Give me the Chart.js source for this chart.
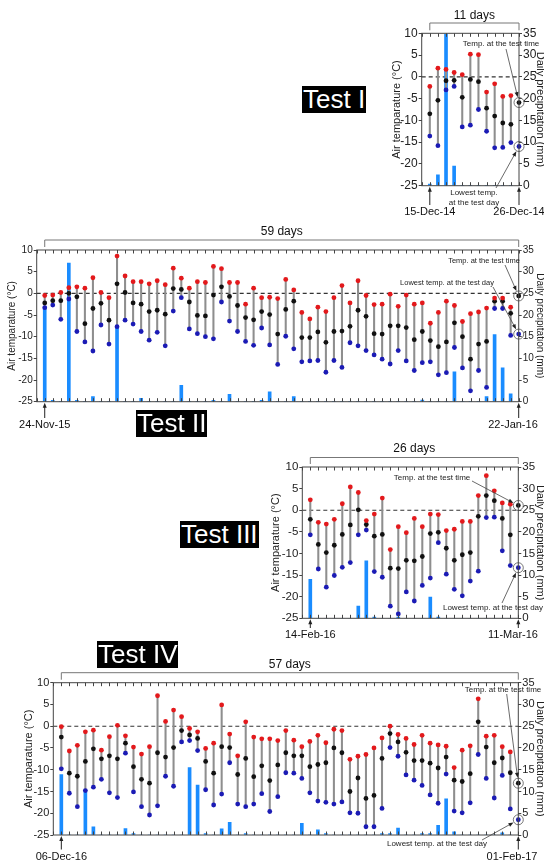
<!DOCTYPE html>
<html>
<head>
<meta charset="utf-8">
<script src="https://cdn.jsdelivr.net/npm/chart.js@4.4.1/dist/chart.umd.min.js"></script>
<style>
  body { margin: 0; background: #fff; }
  #page { position: relative; width: 544px; height: 862px; overflow: hidden; background: #fff; }
  canvas { position: absolute; }
  .tag {
    position: absolute; background: #000; color: #fff;
    font: 26px 'Liberation Sans', Arial, sans-serif; line-height: 27px;
    padding: 0 1px; white-space: nowrap;
  }
</style>
</head>
<body>
<div id="page">
  <canvas id="c0" width="170" height="222" style="left:380px;top:0px"></canvas>
  <canvas id="c1" width="550" height="210" style="left:0px;top:226px"></canvas>
  <canvas id="c2" width="288" height="210" style="left:262px;top:436px"></canvas>
  <canvas id="c3" width="550" height="216" style="left:0px;top:646px"></canvas>
  <div class="tag" style="left:302px;top:86px">Test I</div>
  <div class="tag" style="left:136px;top:410px">Test II</div>
  <div class="tag" style="left:180px;top:521px">Test III</div>
  <div class="tag" style="left:97px;top:641px">Test IV</div>
</div>
<script>
  const FONT = "'Liberation Sans', Arial, sans-serif"

  const tempTicks = [-25, -20, -15, -10, -5, 0, 5, 10]
  const rainTicks = [0, 5, 10, 15, 20, 25, 30, 35]
  const startDates = ['15-Dec-14', '24-Nov-15', '14-Feb-16', '06-Dec-16']
  const endDates = ['26-Dec-14', '22-Jan-16', '11-Mar-16', '01-Feb-17']
  const dayCounts = [11, 59, 26, 57]
  // temperature at the test time / lowest temperature on the test day
  const testNow = [-5.9, -0.6, 1.1, -13.1]
  const testLow = [-16.0, -9.4, -13.3, -21.5]

  // Test I
  const maxI = [-2.2, 2.0, 1.7, 1.0, 0.5, 5.2, 5.1, -3.5, -1.6, -4.5, -4.3]
  const meanI = [-8.5, -5.4, -0.9, -0.8, -4.7, -0.6, -1.1, -7.2, -9.0, -10.6, -10.9]
  const minI = [-13.6, -15.8, -3.0, -2.2, -11.5, -11.1, -7.5, -12.5, -16.3, -16.2, -15.1]
  const rainI = [0.4, 2.5, 34.8, 4.5, 0, 0, 0, 0, 0, 0, 0]

  // Test II
  const maxII = [-0.5, -0.4, 0.2, 1.3, 1.5, 1.2, 3.6, 0.2, -1.0, 8.6,
    4.0, 2.7, 2.7, 2.2, 2.9, 2.0, 5.8, 3.5, 1.2, 2.7,
    2.5, 6.2, 5.7, 2.5, 2.5, -2.5, 1.2, -1.0, -0.9, -1.2,
    3.2, 0.8, -4.4, -5.9, -3.2, -4.2, -1.0, 1.8, -2.2, 2.9,
    -0.5, -2.6, -2.5, -0.2, -3.0, -0.4, -2.5, -2.2, -6.9, -4.4,
    -1.8, -2.8, -6.5, -4.7, -4.3, -3.4, -1.1, -1.1, -3.2]
  const meanII = [-2.2, -1.7, -1.7, 0, -0.8, -7.0, -3.5, -2.3, -6.2, 2.2,
    0.2, -2.2, -2.5, -4.2, -3.9, -4.8, 1.1, 0.9, -2.0, -5.1,
    -5.2, -0.4, 1.5, -0.7, -2.8, -5.6, -6.1, -4.2, -4.9, -9.4,
    -3.7, -1.8, -10.2, -10.2, -8.9, -11.3, -8.8, -8.7, -7.6, -3.9,
    -5.3, -9.3, -9.4, -7.5, -7.5, -7.9, -10.7, -8.8, -10.9, -12.3,
    -11.2, -6.8, -10.0, -15.2, -11.7, -11.1, -1.8, -1.8, -4.6]
  const minII = [-3.3, -2.7, -6.0, -1.3, -8.8, -11.2, -13.3, -7.3, -11.7, -7.7,
    -6.2, -7.1, -8.8, -10.8, -9.0, -12.1, -4.1, -1.0, -8.2, -9.3,
    -10.0, -10.5, -2.0, -6.4, -8.8, -11.1, -12.0, -8.0, -11.9, -16.4,
    -9.9, -12.8, -15.8, -15.6, -15.5, -18.2, -15.5, -17.1, -11.4, -12.1,
    -13.2, -14.2, -15.2, -16.3, -13.2, -15.6, -17.8, -16.0, -15.8, -18.8,
    -18.3, -12.5, -17.2, -22.5, -17.8, -21.7, -3.5, -3.5, -9.7]
  const rainII = [22, 0.3, 0, 32, 0.3, 0, 1.2, 0, 0, 17.5,
    0, 0, 0.8, 0, 0, 0, 0, 3.8, 0, 0,
    0, 0.3, 0, 1.7, 0, 0, 0, 0.3, 2.3, 0,
    0, 1.2, 0, 0, 0, 0, 0, 0, 0, 0,
    0, 0, 0, 0, 0, 0, 0, 0.4, 0, 0,
    0, 6.9, 0, 0, 0, 1.2, 15.5, 7.8, 1.8]

  // Test III
  const maxIII = [2.4, -2.8, -3.2, -2.1, 1.5, 5.4, 4.1, -2.4, -0.9, 2.8,
    -9.1, -3.8, -5.2, -1.9, -3.8, -0.9, -1.0, -4.7, -4.4, -2.6,
    -2.6, 3.4, 8.0, 4.5, 1.7, 1.4]
  const meanIII = [-2.1, -7.9, -9.8, -8.1, -5.6, -3.4, 0.1, -3.3, -6.0, -5.6,
    -13.4, -13.5, -11.6, -11.7, -10.7, -5.4, -5.1, -8.8, -11.6, -10.3,
    -9.8, -1.4, 3.4, 2.2, -1.9, -5.7]
  const minIII = [-5.7, -13.6, -17.8, -15.1, -13.2, -12.1, -5.7, -4.6, -14.2, -15.5,
    -22.2, -24.0, -18.9, -21.0, -17.4, -15.7, -7.5, -14.8, -18.3, -19.8,
    -16.4, -14.1, -1.7, -1.6, -9.4, -12.8]
  const rainIII = [9.0, 0, 0, 0, 0, 0, 2.8, 13.3, 0.3, 0,
    0, 0.3, 0, 0, 0, 4.9, 0.3, 0, 0, 0,
    0, 0, 0, 0, 0, 0]

  // Test IV
  const maxIV = [-0.1, -5.7, -4.4, -1.3, -0.9, -5.5, -2.4, 0.2, -2.2, -4.8,
    -6.4, -4.7, 7.0, 1.1, 3.7, 2.2, -0.5, -1.3, -5.1, -3.9,
    4.9, -1.8, -6.8, 1.0, -2.5, -2.9, -2.9, -3.3, -1.0, -3.2,
    -4.7, -3.5, -2.1, -3.8, -0.7, -1.0, -7.6, -6.9, -6.5, -5.0,
    -2.7, 0.0, -1.9, -2.8, -4.2, -2.1, -3.9, -4.3, -4.6, -9.5,
    -5.5, -4.5, 6.3, -2.3, -2.1, -4.7, -5.9]
  const meanIV = [-2.5, -10.8, -11.5, -8.1, -5.2, -7.5, -6.8, -7.5, -3.9, -9.3,
    -12.2, -13.1, -6.1, -7.1, -4.9, -1.0, -2.0, -2.8, -8.1, -10.8,
    -4.7, -4.9, -11.1, -7.4, -11.6, -9.1, -12.5, -8.9, -6.1, -6.8,
    -6.8, -9.3, -8.8, -8.4, -5.0, -6.1, -15.0, -11.9, -16.6, -15.9,
    -7.4, -1.7, -3.6, -6.0, -7.9, -7.9, -8.5, -9.6, -7.1, -12.4,
    -12.7, -10.9, 1.0, -4.8, -8.4, -7.3, -10.7]
  const minIV = [-9.8, -15.4, -18.5, -14.8, -14.0, -12.2, -15.3, -16.4, -6.2, -15.1,
    -18.5, -20.4, -18.3, -11.5, -13.8, -3.6, -3.3, -5.6, -14.6, -18.1,
    -15.6, -8.4, -17.9, -18.5, -17.9, -15.5, -19.6, -16.2, -10.7, -10.8,
    -12.0, -15.3, -17.2, -17.5, -17.9, -17.4, -19.9, -20.0, -23.1, -23.1,
    -18.9, -4.9, -6.9, -11.2, -12.4, -13.6, -15.8, -17.7, -11.0, -19.5,
    -19.9, -17.6, -6.5, -12.0, -16.5, -11.3, -19.0]
  const rainIV = [13.9, 0, 0, 10.3, 1.9, 0, 0, 0, 1.5, 0.3,
    0, 0, 0, 0, 0, 0, 15.5, 11.5, 0.3, 0,
    1.4, 2.9, 0, 0.3, 0, 0, 0, 0, 0, 0,
    2.7, 0, 1.2, 0.3, 0, 0, 0, 0, 0, 0,
    0.3, 0.3, 1.6, 0, 0, 0.3, 0.3, 2.2, 8.3, 0.7,
    0, 0, 0, 0, 0, 0.5, 0]

  const series = [
    { max: maxI, mean: meanI, min: minI, rain: rainI },
    { max: maxII, mean: meanII, min: minII, rain: rainII },
    { max: maxIII, mean: meanIII, min: minIII, rain: rainIII },
    { max: maxIV, mean: meanIV, min: minIV, rain: rainIV }
  ]

  // page positions (px) of each panel: canvas box, plot area, title centres, notes
  const layouts = [
    { box: [380, 0, 170, 222], area: [421.7, 33.3, 519, 185.7], yTitleX: 397, y1TitleX: 540,
      tick: 12, title: 11, label: 11, note: 8, daysY: 16, bracketY: 23, dateY: 212, endX: 519,
      now: { x: 501, y: 44, lines: ['Temp. at the test time'], from: [506, 49] },
      low: { x: 474, y: 193, lines: ['Lowest temp.', 'at the test day'], from: [496, 188] } },
    { box: [0, 226, 550, 210], area: [36.7, 250, 518.7, 401.7], yTitleX: 12, y1TitleX: 540,
      tick: 10, title: 10, label: 11, note: 7.5, daysY: 232, bracketY: 240, dateY: 425, endX: 513,
      now: { x: 484, y: 261, lines: ['Temp. at the test time'], from: [505, 265] },
      low: { x: 447, y: 283, lines: ['Lowest temp. at the test day'], from: [493, 287] } },
    { box: [262, 436, 288, 210], area: [302.3, 467, 518.3, 618.3], yTitleX: 276, y1TitleX: 540,
      tick: 11.5, title: 11, label: 11, note: 8, daysY: 449, bracketY: 457.5, dateY: 635, endX: 513,
      now: { x: 432, y: 478, lines: ['Temp. at the test time'], from: [472, 481] },
      low: { x: 493, y: 608, lines: ['Lowest temp. at the test day'], from: [502, 603] } },
    { box: [0, 646, 550, 216], area: [53.3, 682.7, 518.3, 835], yTitleX: 29, y1TitleX: 540,
      tick: 11, title: 11, label: 11, note: 8, daysY: 665, bracketY: 672.7, dateY: 856.5, endX: 512,
      now: { x: 503, y: 690, lines: ['Temp. at the test time'], from: [506.7, 694] },
      low: { x: 437, y: 844, lines: ['Lowest temp. at the test day'], from: [482, 840] } }
  ]

  Chart.defaults.font.family = FONT

  function arrow(ctx, x1, y1, x2, y2) {
    const a = Math.atan2(y2 - y1, x2 - x1)
    const h = 5, w = 2
    ctx.beginPath()
    ctx.moveTo(x1, y1)
    ctx.lineTo(x2 - h * 0.8 * Math.cos(a), y2 - h * 0.8 * Math.sin(a))
    ctx.stroke()
    ctx.beginPath()
    ctx.moveTo(x2, y2)
    ctx.lineTo(x2 - h * Math.cos(a) + w * Math.sin(a), y2 - h * Math.sin(a) - w * Math.cos(a))
    ctx.lineTo(x2 - h * Math.cos(a) - w * Math.sin(a), y2 - h * Math.sin(a) + w * Math.cos(a))
    ctx.closePath()
    ctx.fill()
  }

  function panelPlugin(k) {
    const L = layouts[k]
    const ox = L.box[0], oy = L.box[1]
    const n = series[k].max.length
    return {
      id: 'panel' + k,
      beforeDatasetsDraw(chart) {
        const { ctx, chartArea: a, scales: { y } } = chart
        const y0 = y.getPixelForValue(0)
        ctx.save()
        ctx.setLineDash([4, 3])
        ctx.strokeStyle = '#333'
        ctx.lineWidth = 1.1
        ctx.beginPath()
        ctx.moveTo(a.left, y0)
        ctx.lineTo(a.right, y0)
        ctx.stroke()
        ctx.restore()
      },
      afterDraw(chart) {
        const { ctx, chartArea: a, scales: { x, y } } = chart
        ctx.save()
        // frame and day ticks
        ctx.strokeStyle = '#444'
        ctx.lineWidth = 1
        ctx.strokeRect(a.left, a.top, a.right - a.left, a.bottom - a.top)
        for (let i = -1; i <= n; i++) {
          const px = Math.round(x.getPixelForValue(i)) + 0.5
          ctx.beginPath()
          ctx.moveTo(px, a.top); ctx.lineTo(px, a.top + 3.5)
          ctx.moveTo(px, a.bottom); ctx.lineTo(px, a.bottom - 3.5)
          ctx.stroke()
        }
        const x0 = x.getPixelForValue(0), xn = x.getPixelForValue(n)
        // bracket with day count
        const by = L.bracketY - oy
        ctx.strokeStyle = '#777'
        ctx.beginPath()
        ctx.moveTo(x0, a.top - 3); ctx.lineTo(x0, by); ctx.lineTo(xn, by); ctx.lineTo(xn, a.top - 3)
        ctx.stroke()
        ctx.fillStyle = '#111'
        ctx.textAlign = 'center'
        ctx.textBaseline = 'middle'
        ctx.font = '12px ' + FONT
        ctx.fillText(dayCounts[k] + ' days', (x0 + xn) / 2, L.daysY - oy)
        // start / end dates
        ctx.font = L.label + 'px ' + FONT
        ctx.fillText(startDates[k], x0, L.dateY - oy)
        ctx.fillText(endDates[k], L.endX - ox, L.dateY - oy)
        ctx.strokeStyle = '#222'
        ctx.fillStyle = '#222'
        ctx.lineWidth = 1
        arrow(ctx, x0, L.dateY - oy - 7, x0, a.bottom + 1)
        arrow(ctx, xn, L.dateY - oy - 7, xn, a.bottom + 1)
        // notes pointing at the test values
        const notes = [[L.now, testNow[k]], [L.low, testLow[k]]]
        notes.forEach(([nt, v]) => {
          ctx.fillStyle = '#222'
          ctx.font = L.note + 'px ' + FONT
          nt.lines.forEach((t, j) => ctx.fillText(t, nt.x - ox, nt.y - oy + j * (L.note + 1.5)))
          const cx = xn, cy = y.getPixelForValue(v)
          const fx = nt.from[0] - ox, fy = nt.from[1] - oy
          const d = Math.hypot(cx - fx, cy - fy), r = 5.5
          ctx.strokeStyle = '#444'
          ctx.fillStyle = '#222'
          ctx.lineWidth = 0.8
          arrow(ctx, fx, fy, cx - (cx - fx) * r / d, cy - (cy - fy) * r / d)
        })
        ctx.restore()
      }
    }
  }

  function makeChart(k) {
    const L = layouts[k], S = series[k], n = S.max.length
    const [bl, bt, bw, bh] = L.box
    const [al, at, ar, ab] = L.area
    const off = L.title * 1.2 / 2
    const padL = L.yTitleX - off - bl
    const yW = al - bl - padL
    const padR = bl + bw - (L.y1TitleX + off)
    const y1W = L.y1TitleX + off - ar
    const pts = (arr) => arr.map((v, i) => ({ x: i, y: v }))
    const dot = (arr, color) => ({
      type: 'line', data: pts(arr), yAxisID: 'y', showLine: false,
      pointRadius: 2.4, pointBorderWidth: 0, pointBackgroundColor: color, order: 0
    })
    new Chart(document.getElementById('c' + k), {
      type: 'line',
      data: {
        datasets: [
          dot(S.max, '#e3191c'),
          dot(S.mean, '#111111'),
          dot(S.min, '#1b1bb5'),
          {
            type: 'line', yAxisID: 'y', showLine: false, clip: false, order: 0,
            data: [{ x: n, y: testNow[k] }, { x: n, y: testLow[k] }],
            pointRadius: 2.4, pointBorderWidth: 0,
            pointBackgroundColor: ['#111111', '#1b1bb5']
          },
          {
            type: 'line', yAxisID: 'y', showLine: false, clip: false, order: 0,
            data: [{ x: n, y: testNow[k] }, { x: n, y: testLow[k] }],
            pointRadius: 5, pointBorderWidth: 0.9,
            pointBackgroundColor: 'rgba(0,0,0,0)', pointBorderColor: '#666'
          },
          {
            type: 'bar', yAxisID: 'y', order: 1, grouped: false, barThickness: 1.4,
            data: S.min.map((v, i) => ({ x: i, y: [v, S.max[i]] })),
            backgroundColor: '#8e8e8e'
          },
          {
            type: 'bar', yAxisID: 'y1', order: 2, grouped: false, barThickness: 3,
            data: pts(S.rain), backgroundColor: '#1a8cff'
          }
        ]
      },
      options: {
        responsive: false,
        devicePixelRatio: 1,
        animation: false,
        events: [],
        layout: { padding: { left: padL, right: padR, top: at - bt, bottom: bt + bh - ab } },
        plugins: { legend: { display: false }, tooltip: { enabled: false } },
        scales: {
          x: { type: 'linear', display: false, offset: false, min: -1, max: n },
          y: {
            position: 'left', min: -25, max: 10,
            afterBuildTicks: s => { s.ticks = tempTicks.map(v => ({ value: v })) },
            afterFit: s => { s.width = yW },
            grid: { drawOnChartArea: false, tickLength: 3, color: '#444' },
            border: { display: false },
            ticks: { padding: 1, color: '#222', font: { size: L.tick } },
            title: {
              display: true, text: 'Air temparature (°C)', padding: 0,
              color: '#222', font: { size: L.title }
            }
          },
          y1: {
            position: 'right', min: 0, max: 35,
            afterBuildTicks: s => { s.ticks = rainTicks.map(v => ({ value: v })) },
            afterFit: s => { s.width = y1W },
            grid: { drawOnChartArea: false, tickLength: 3, color: '#444' },
            border: { display: false },
            ticks: { padding: 1, color: '#222', font: { size: L.tick } },
            title: {
              display: true, text: 'Daily precipitation (mm)', padding: 0,
              color: '#222', font: { size: L.title }
            }
          }
        }
      },
      plugins: [panelPlugin(k)]
    })
  }

  for (let k = 0; k < 4; k++) makeChart(k)
</script>
</body>
</html>
